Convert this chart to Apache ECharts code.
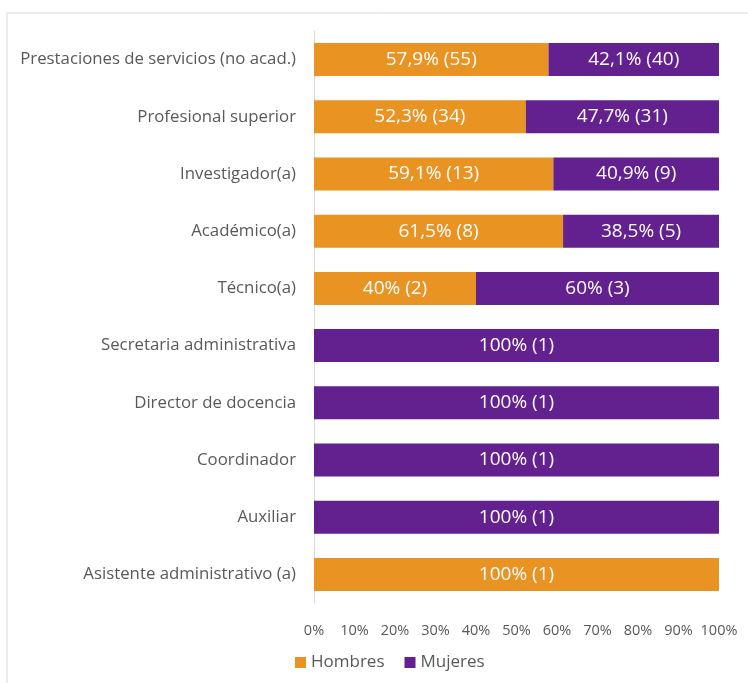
<!DOCTYPE html>
<html>
<head>
<meta charset="utf-8">
<script src="https://cdn.jsdelivr.net/npm/echarts@6/dist/echarts.min.js"></script>
<style>
  html, body { margin: 0; padding: 0; background: #fff; }
  #chart { width: 748px; height: 683px; }
</style>
</head>
<body>
<div id="chart"></div>
<script>
// categories, top to bottom
var categories = [
  'Prestaciones de servicios (no acad.)',
  'Profesional superior',
  'Investigador(a)',
  'Académico(a)',
  'Técnico(a)',
  'Secretaria administrativa',
  'Director de docencia',
  'Coordinador',
  'Auxiliar',
  'Asistente administrativo (a)'
]
// percentages
var hombresPct = [57.9, 52.3, 59.1, 61.5, 40, 0, 0, 0, 0, 100]
var mujeresPct = [42.1, 47.7, 40.9, 38.5, 60, 100, 100, 100, 100, 0]
// counts shown in brackets
var hombresN = [55, 34, 13, 8, 2, 0, 0, 0, 0, 1]
var mujeresN = [40, 31, 9, 5, 3, 1, 1, 1, 1, 0]
var xTicks = [0, 10, 20, 30, 40, 50, 60, 70, 80, 90, 100]

var font = 'Open Sans, Noto Sans, sans-serif'

function makeLabel(counts) {
  return {
    show: true,
    position: 'inside',
    color: '#fff',
    fontSize: 19,
    fontFamily: font,
    formatter: function (p) {
      if (!p.value) return ''
      return String(p.value).replace('.', ',') + '% (' + counts[p.dataIndex] + ')'
    }
  }
}

var chart = echarts.init(document.getElementById('chart'))
chart.setOption({
  animation: false,
  grid: { left: 314, right: 29, top: 31, bottom: 80 },
  graphic: [
    { type: 'line', shape: { x1: 7, y1: 13, x2: 748, y2: 13 }, style: { stroke: '#d9d9d9', lineWidth: 1 } },
    { type: 'line', shape: { x1: 7, y1: 13, x2: 7, y2: 683 }, style: { stroke: '#d9d9d9', lineWidth: 1 } }
  ],
  legend: {
    bottom: 7,
    left: 290,
    itemWidth: 11,
    itemHeight: 11,
    itemGap: 20,
    icon: 'rect',
    textStyle: { color: '#595959', fontSize: 17, fontFamily: font },
    data: ['Hombres', 'Mujeres']
  },
  xAxis: {
    type: 'value',
    min: 0,
    max: 100,
    interval: 10,
    axisLine: { show: false },
    axisTick: { show: false },
    splitLine: { show: false },
    axisLabel: {
      color: '#595959',
      fontSize: 14.5,
      fontFamily: font,
      margin: 20,
      formatter: function (v) { return xTicks.indexOf(v) >= 0 ? v + '%' : '' }
    }
  },
  yAxis: {
    type: 'category',
    inverse: true,
    data: categories,
    axisLine: { show: true, lineStyle: { color: '#d9d9d9' } },
    axisTick: { show: false },
    axisLabel: { color: '#595959', fontSize: 16.8, fontFamily: font, margin: 18 }
  },
  series: [
    {
      name: 'Hombres',
      type: 'bar',
      stack: 'total',
      barWidth: 33,
      itemStyle: { color: '#E99322' },
      label: makeLabel(hombresN),
      data: hombresPct
    },
    {
      name: 'Mujeres',
      type: 'bar',
      stack: 'total',
      barWidth: 33,
      itemStyle: { color: '#63218F' },
      label: makeLabel(mujeresN),
      data: mujeresPct
    }
  ]
})
</script>
</body>
</html>
